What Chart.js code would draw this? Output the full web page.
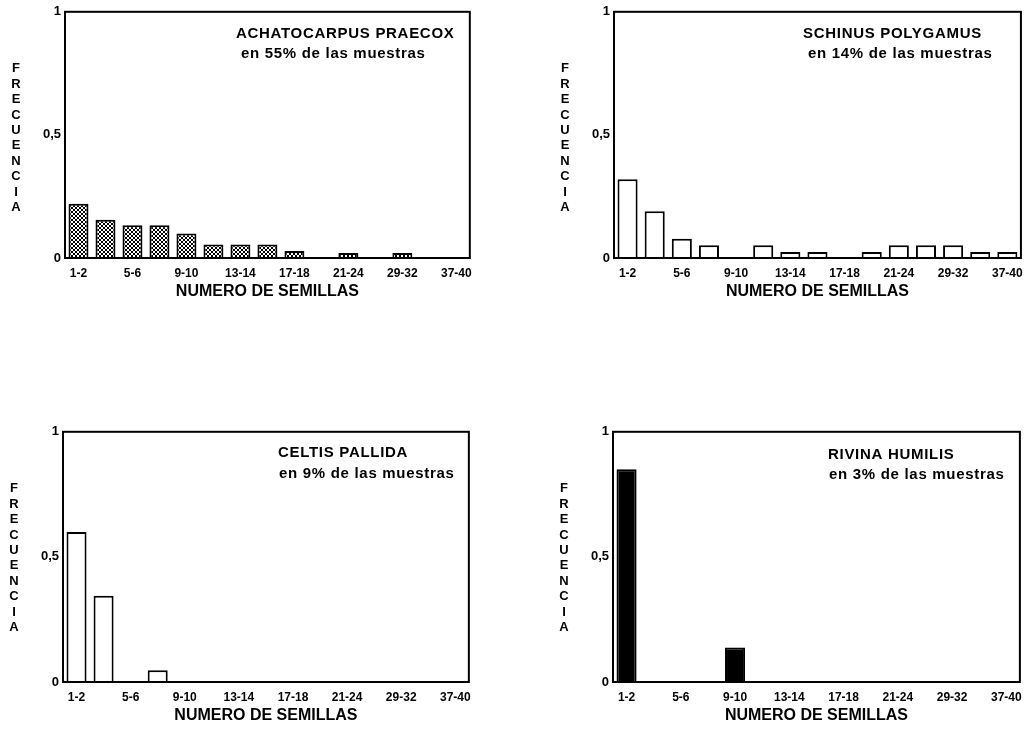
<!DOCTYPE html>
<html>
<head>
<meta charset="utf-8">
<script src="https://cdn.jsdelivr.net/npm/chart.js@4"></script>
<style>
  body { margin: 0; background: #fff; width: 1031px; height: 729px; position: relative; overflow: hidden; }
  .panel { position: absolute; }
</style>
</head>
<body>
<div class="panel" style="left:0px;top:0px;width:480px;height:301px"><canvas id="c1"></canvas></div>
<div class="panel" style="left:549px;top:0px;width:482px;height:301px"><canvas id="c2"></canvas></div>
<div class="panel" style="left:0px;top:420px;width:479px;height:305px"><canvas id="c3"></canvas></div>
<div class="panel" style="left:549px;top:420px;width:481px;height:305px"><canvas id="c4"></canvas></div>
<script>
"use strict";

// seed-count classes
const categories = ["1-2", "3-4", "5-6", "7-8", "9-10", "11-12", "13-14", "15-16", "17-18", "19-20",
                    "21-24", "25-28", "29-32", "33-36", "37-40"];
const yTickLabels = { 0: "0", 0.5: "0,5", 1: "1" };

// frequencies
const achatocarpus = [0.22, 0.155, 0.133, 0.133, 0.10, 0.055, 0.055, 0.055, 0.028, 0.004, 0.02, 0.004, 0.02, 0, 0];
const schinus = [0.32, 0.19, 0.078, 0.052, 0, 0.052, 0.024, 0.024, 0, 0.024, 0.052, 0.052, 0.052, 0.024, 0.024];
const celtis = [0.60, 0.345, 0, 0.047, 0, 0, 0, 0, 0, 0, 0, 0, 0, 0, 0];
const rivina = [0.85, 0, 0, 0, 0.138, 0, 0, 0, 0, 0, 0, 0, 0, 0, 0];

const FONT = "'Liberation Sans', Arial, sans-serif";

function hatch() {
  const c = document.createElement("canvas");
  c.width = 4;
  c.height = 4;
  const g = c.getContext("2d");
  g.fillStyle = "#fff";
  g.fillRect(0, 0, 4, 4);
  g.fillStyle = "#000";
  for (let i = 0; i < 4; i++) {
    g.fillRect(i, i, 1, 1);
    g.fillRect(3 - i, i, 1, 1);
  }
  return g.createPattern(c, "repeat");
}

// frame, stacked y title and the species note inside the plot
const panelDeco = {
  id: "panelDeco",
  afterDraw(chart, args, opts) {
    const ctx = chart.ctx;
    const a = chart.chartArea;
    ctx.save();
    ctx.strokeStyle = "#000";
    ctx.lineWidth = 2;
    ctx.strokeRect(a.left, a.top, a.right - a.left, a.bottom - a.top);

    ctx.fillStyle = "#000";
    ctx.font = "bold 13px " + FONT;
    ctx.textAlign = "center";
    ctx.textBaseline = "middle";
    const word = "FRECUENCIA";
    for (let i = 0; i < word.length; i++) {
      ctx.fillText(word[i], a.left - 49, a.top + 57 + i * 15.4);
    }

    ctx.font = "bold 15px " + FONT;
    ctx.letterSpacing = "0.7px";
    ctx.textAlign = "left";
    ctx.fillText(opts.name, a.left + opts.dx[0], a.top + opts.dy[0]);
    ctx.fillText(opts.note, a.left + opts.dx[1], a.top + opts.dy[1]);
    ctx.restore();
  },
};

function makeChart(id, values, fill, yWidth, pad, deco) {
  return new Chart(id, {
    type: "bar",
    data: {
      labels: categories,
      datasets: [
        {
          data: values,
          backgroundColor: fill,
          borderColor: "#000",
          borderWidth: 2,
          categoryPercentage: 1,
          barPercentage: 0.74,
        },
      ],
    },
    options: {
      responsive: true,
      maintainAspectRatio: false,
      animation: false,
      layout: { padding: pad },
      plugins: {
        legend: { display: false },
        tooltip: { enabled: false },
        panelDeco: deco,
      },
      scales: {
        x: {
          grid: { display: false, drawTicks: false },
          border: { display: false },
          afterFit: (s) => { s.height = 43; },
          ticks: {
            autoSkip: false,
            maxRotation: 0,
            padding: 8,
            color: "#000",
            font: { family: FONT, size: 12, weight: "bold" },
            callback: (v, i) => (i % 2 === 0 ? categories[i] : ""),
          },
          title: {
            display: true,
            text: "NUMERO DE SEMILLAS",
            color: "#000",
            padding: 0,
            font: { family: FONT, size: 16, weight: "bold" },
          },
        },
        y: {
          min: 0,
          max: 1,
          grid: { display: false, drawTicks: false },
          border: { display: false },
          afterFit: (s) => { s.width = yWidth; },
          ticks: {
            stepSize: 0.5,
            padding: 4,
            color: "#000",
            font: { family: FONT, size: 13, weight: "bold" },
            callback: (v) => yTickLabels[v],
          },
        },
      },
    },
    plugins: [panelDeco],
  });
}

makeChart("c1", achatocarpus, hatch(), 65, { top: 10, right: 10, left: 0, bottom: 0 },
  { name: "ACHATOCARPUS PRAECOX", note: "en 55% de las muestras", dx: [171, 176], dy: [22, 42] });
makeChart("c2", schinus, "#fff", 65, { top: 10, right: 9, left: 0, bottom: 0 },
  { name: "SCHINUS POLYGAMUS", note: "en 14% de las muestras", dx: [189, 194], dy: [22, 42] });
makeChart("c3", celtis, "#fff", 63, { top: 10, right: 10, left: 0, bottom: 0 },
  { name: "CELTIS PALLIDA", note: "en 9% de las muestras", dx: [215, 216], dy: [21, 42] });
makeChart("c4", rivina, "#000", 64, { top: 9, right: 10, left: 0, bottom: 0 },
  { name: "RIVINA HUMILIS", note: "en 3% de las muestras", dx: [215, 216], dy: [23, 43] });
</script>
</body>
</html>
